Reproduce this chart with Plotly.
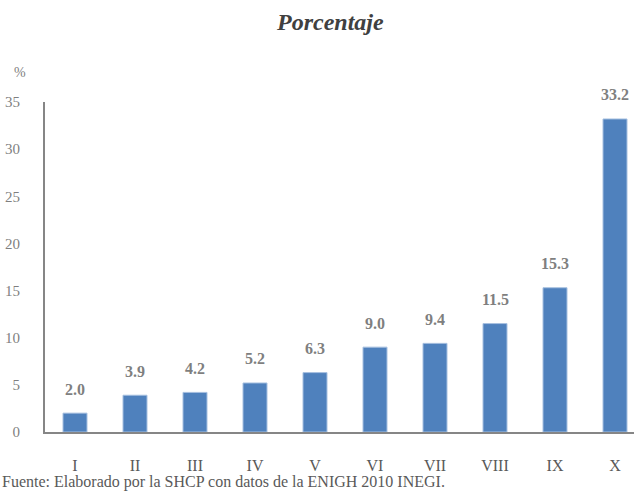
import plotly.graph_objects as go

categories = ["I", "II", "III", "IV", "V", "VI", "VII", "VIII", "IX", "X"]
values = [2.0, 3.9, 4.2, 5.2, 6.3, 9.0, 9.4, 11.5, 15.3, 33.2]
labels = ["2.0", "3.9", "4.2", "5.2", "6.3", "9.0", "9.4", "11.5", "15.3", "33.2"]
y_ticks = [0, 5, 10, 15, 20, 25, 30, 35]

W, H = 634, 491
L, R, T, B = 45, 0, 102, 59
plot_w = W - L - R
plot_h = H - T - B

def px_to_paper_y(py):
    return (H - B - py) / plot_h

def px_to_paper_x(px):
    return (px - L) / plot_w

serif = "Liberation Serif"
gray = "#7f7f7f"

fig = go.Figure()
fig.add_trace(go.Bar(
    x=categories, y=values,
    marker=dict(color="#4F81BD", line=dict(color="#a7c0e0", width=1)),
    width=0.4,
    hoverinfo="x+y",
))

for c, v, t in zip(categories, values, labels):
    fig.add_annotation(x=c, y=v, text=f"<b>{t}</b>", showarrow=False,
                       yshift=24, font=dict(family=serif, size=16, color=gray))

fig.add_annotation(xref="paper", yref="paper", x=px_to_paper_x(330),
                   y=px_to_paper_y(22), text="<b><i>Porcentaje</i></b>",
                   showarrow=False, xanchor="center", yanchor="middle",
                   font=dict(family=serif, size=24, color="#404040"))
fig.add_annotation(xref="paper", yref="paper", x=px_to_paper_x(20),
                   y=px_to_paper_y(72), text="%", showarrow=False,
                   xanchor="center", yanchor="middle",
                   font=dict(family=serif, size=14, color=gray))
fig.add_annotation(xref="paper", yref="paper", x=px_to_paper_x(0),
                   y=px_to_paper_y(482), text="Fuente: Elaborado por la SHCP con datos de la ENIGH 2010 INEGI.",
                   showarrow=False, xanchor="left", yanchor="middle",
                   font=dict(family=serif, size=16, color="#595959"))

fig.update_layout(
    width=W, height=H,
    margin=dict(l=L, r=R, t=T, b=B, pad=0),
    paper_bgcolor="white", plot_bgcolor="white",
    showlegend=False,
    xaxis=dict(
        range=[-0.5, -0.5 + plot_w / 60.0],
        showline=True, linecolor="#868686", linewidth=2,
        showgrid=False, ticks="", ticklabelstandoff=18,
        tickfont=dict(family=serif, size=16, color="#595959"),
        fixedrange=True,
    ),
    yaxis=dict(
        range=[0, 35], tickvals=y_ticks,
        showline=True, linecolor="#868686", linewidth=2,
        showgrid=False, zeroline=False, ticks="", ticklabelstandoff=20,
        tickfont=dict(family=serif, size=15, color=gray),
        fixedrange=True,
    ),
)

fig.write_html("out.html")
